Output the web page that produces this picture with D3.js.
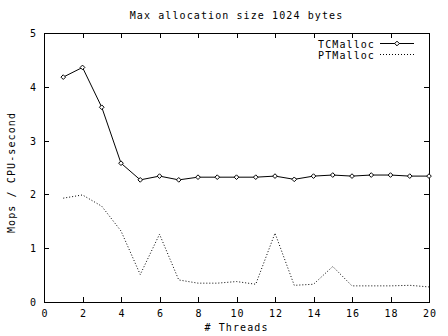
<!DOCTYPE html>
<html><head><meta charset="utf-8">
<script src="https://cdn.jsdelivr.net/npm/d3@7"></script>
<style>html,body{margin:0;padding:0;background:#fff}svg{display:block}text{font-family:"DejaVu Sans Mono",monospace;font-size:10px;letter-spacing:1.1px;fill:#000}</style>
</head><body><svg id="c" width="448" height="336"></svg>
<script>
const threads = [1,2,3,4,5,6,7,8,9,10,11,12,13,14,15,16,17,18,19,20];
const tcmalloc = [4.18,4.36,3.62,2.58,2.27,2.34,2.27,2.32,2.32,2.32,2.32,2.34,2.28,2.34,2.36,2.34,2.36,2.36,2.34,2.34];
const ptmalloc = [1.93,1.99,1.78,1.32,0.51,1.26,0.41,0.35,0.35,0.38,0.33,1.28,0.31,0.33,0.66,0.30,0.30,0.30,0.31,0.28];
const xTicks = [0,2,4,6,8,10,12,14,16,18,20];
const yTicks = [0,1,2,3,4,5];
const seriesNames = ["TCMalloc","PTMalloc"];
const title = "Max allocation size 1024 bytes";
const xTitle = "# Threads";
const yTitle = "Mops / CPU-second";

const svg = d3.select("#c");
const L=44, R=429, T=33, B=302;
const x = d3.scaleLinear().domain([0,20]).range([L,R]);
const y = d3.scaleLinear().domain([0,5]).range([B,T]);
const tk = 5;

const gB = svg.append("g").attr("transform",`translate(0,${B})`)
  .call(d3.axisBottom(x).tickValues(xTicks).tickSize(-tk).tickPadding(0).tickFormat(d3.format("d")));
const gT = svg.append("g").attr("transform",`translate(0,${T})`)
  .call(d3.axisTop(x).tickValues(xTicks).tickSize(-tk).tickFormat(""));
const gL = svg.append("g").attr("transform",`translate(${L},0)`)
  .call(d3.axisLeft(y).tickValues(yTicks).tickSize(-tk).tickFormat(d3.format("d")));
const gR = svg.append("g").attr("transform",`translate(${R},0)`)
  .call(d3.axisRight(y).tickValues(yTicks).tickSize(-tk).tickFormat(""));
[gB,gT,gL,gR].forEach(g=>{
  g.selectAll(".domain").remove();
  g.selectAll("line").attr("stroke","#000").attr("shape-rendering","crispEdges");
  g.selectAll("text").attr("font-family",null).attr("font-size",null).style("fill","#000");
});
gB.selectAll("text").attr("y",15).attr("dy",null).attr("dx","0.55px");
gL.selectAll("text").attr("x",-7).attr("dy","0.35em");
gB.selectAll(".tick").filter(d=>d===0||d===20).select("line").remove();
gT.selectAll(".tick").filter(d=>d===0||d===20).select("line").remove();
gL.selectAll(".tick").filter(d=>d===0||d===5).select("line").remove();
gR.selectAll(".tick").filter(d=>d===0||d===5).select("line").remove();

svg.append("rect").attr("x",L+0.5).attr("y",T+0.5).attr("width",R-L).attr("height",B-T)
  .attr("fill","none").attr("stroke","#000").attr("shape-rendering","crispEdges");

svg.append("text").attr("x",(L+R)/2).attr("y",19).attr("text-anchor","middle").text(title);
svg.append("text").attr("x",(L+R)/2).attr("y",331).attr("text-anchor","middle").text(xTitle);
svg.append("text").attr("transform",`translate(15,${(T+B)/2+5}) rotate(-90)`).attr("text-anchor","middle").text(yTitle);

const line = d3.line().x((d,i)=>x(threads[i])).y(d=>y(d));
svg.append("path").datum(tcmalloc).attr("d",line).attr("fill","none").attr("stroke","#000").attr("stroke-width",1);
svg.append("path").datum(ptmalloc).attr("d",line).attr("fill","none").attr("stroke","#000").attr("stroke-width",1).attr("stroke-dasharray","1,2");

const diamond = d3.symbol().type(d3.symbolDiamond2).size(14);
svg.append("g").selectAll("path").data(tcmalloc).join("path")
  .attr("transform",(d,i)=>`translate(${x(threads[i])},${y(d)})`)
  .attr("d",diamond).attr("fill","#fff").attr("stroke","#000").attr("stroke-width",1);

const lg = svg.append("g");
[0,1].forEach(i=>{
  const yy = 43.5 + i*11;
  lg.append("text").attr("x",375).attr("y",yy+4).attr("text-anchor","end").text(seriesNames[i]);
  lg.append("line").attr("x1",380).attr("x2",414).attr("y1",yy).attr("y2",yy)
    .attr("stroke","#000").attr("stroke-dasharray",i===1?"1,2":null);
  if(i===0) lg.append("path").attr("transform",`translate(397,${yy})`).attr("d",diamond)
    .attr("fill","#fff").attr("stroke","#000");
});
</script></body></html>
